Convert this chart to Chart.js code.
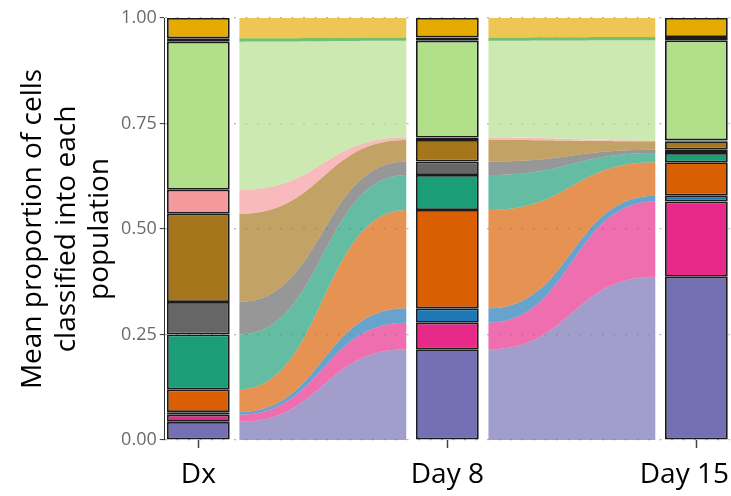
<!DOCTYPE html>
<html>
<head>
<meta charset="utf-8">
<title>Population proportions over time</title>
<script src="https://cdn.jsdelivr.net/npm/chart.js@4.4.1/dist/chart.umd.min.js"></script>
<style>
  html, body { margin: 0; padding: 0; background: #ffffff; }
  canvas { display: block; }
</style>
</head>
<body>
<canvas id="chart" width="731" height="496"></canvas>
<script>
// Time points along the x axis
const timepoints = ['Dx', 'Day 8', 'Day 15'];

// Populations, listed from the bottom of each stack to the top
const populations = ['P1', 'P2', 'P3', 'P4', 'P5', 'P6', 'P7', 'P8', 'P9', 'P10', 'P11'];

// Mean proportion of cells in each population at each time point
const propDx    = [0.043, 0.017, 0.006, 0.054, 0.130, 0.077, 0.209, 0.057, 0.351, 0.008, 0.048];
const propDay8  = [0.215, 0.063, 0.034, 0.233, 0.083, 0.032, 0.051, 0.006, 0.229, 0.008, 0.046];
const propDay15 = [0.387, 0.178, 0.014, 0.079, 0.022, 0.008, 0.020, 0.002, 0.237, 0.008, 0.045];

// y-axis ticks
const yTickValues = [0, 0.25, 0.5, 0.75, 1];
const yTickLabels = ['0.00', '0.25', '0.50', '0.75', '1.00'];

// y-axis title lines
const yTitle = ['Mean proportion of cells', 'classified into each', 'population'];

// Fill colour of each population
const popColours = ['#7570B3', '#E7298A', '#1F78B4', '#D95F02', '#1B9E77', '#666666',
                    '#A6761D', '#F49A9C', '#B2DF8A', '#33A02C', '#E6AB02'];

const FONT = "'Open Sans', 'Noto Sans', sans-serif";
const FLOW_ALPHA = 0.68;
const FLOW_GAP = 0.165;     // distance (x units) between a bar centre and the start of its flows

// Build [bottom, top] intervals of every population for each time point
const series = [propDx, propDay8, propDay15];
const stacks = series.map(vals => {
  let acc = 0;
  return vals.map(v => { const lo = acc; acc += v; return [lo, acc]; });
});

const datasets = populations.map((name, i) => ({
  type: 'bar',
  label: name,
  data: timepoints.map((t, j) => ({ x: j + 1, y: stacks[j][i] })),
  backgroundColor: popColours[i],
  borderColor: '#1b1b1b',
  borderWidth: 1.8,
  borderSkipped: false,
  grouped: false,
  categoryPercentage: 1,
  barPercentage: 0.252
}));

// Smooth ribbons linking each population between consecutive time points
const flowPlugin = {
  id: 'flows',
  beforeDatasetsDraw(chart) {
    const { ctx, scales: { x, y } } = chart;
    ctx.save();
    ctx.globalAlpha = FLOW_ALPHA;
    for (let j = 0; j < stacks.length - 1; j++) {
      const xa = x.getPixelForValue(j + 1 + FLOW_GAP);
      const xb = x.getPixelForValue(j + 2 - FLOW_GAP);
      const xm = (xa + xb) / 2;
      populations.forEach((p, i) => {
        const [a0, a1] = stacks[j][i];
        const [b0, b1] = stacks[j + 1][i];
        const ya0 = y.getPixelForValue(a0), ya1 = y.getPixelForValue(a1);
        const yb0 = y.getPixelForValue(b0), yb1 = y.getPixelForValue(b1);
        ctx.beginPath();
        ctx.moveTo(xa, ya1);
        ctx.bezierCurveTo(xm, ya1, xm, yb1, xb, yb1);
        ctx.lineTo(xb, yb0);
        ctx.bezierCurveTo(xm, yb0, xm, ya0, xa, ya0);
        ctx.closePath();
        ctx.fillStyle = popColours[i];
        ctx.fill();
      });
    }
    ctx.restore();
  }
};

// Time point labels under each bar, kept inside the canvas
const xLabelPlugin = {
  id: 'xLabels',
  afterDraw(chart) {
    const { ctx, scales: { x }, chartArea } = chart;
    ctx.save();
    ctx.font = `28px ${FONT}`;
    ctx.fillStyle = '#000000';
    ctx.textAlign = 'center';
    ctx.textBaseline = 'middle';
    timepoints.forEach((t, j) => {
      const w = ctx.measureText(t).width;
      let cx = x.getPixelForValue(j + 1);
      if (cx + w / 2 > chart.width - 2) cx = chart.width - 2 - w / 2;
      ctx.fillText(t, cx, chartArea.bottom + 35);
    });
    ctx.restore();
  }
};

new Chart(document.getElementById('chart'), {
  type: 'bar',
  data: { datasets },
  plugins: [flowPlugin, xLabelPlugin],
  options: {
    responsive: false,
    animation: false,
    layout: { padding: { left: 17, top: 18, right: 1, bottom: 48 } },
    plugins: { legend: { display: false }, tooltip: { enabled: false } },
    scales: {
      x: {
        type: 'linear',
        min: 0.865,
        max: 3.135,
        offset: false,
        afterBuildTicks: s => { s.ticks = timepoints.map((t, j) => ({ value: j + 1 })); },
        ticks: { display: false },
        grid: { drawOnChartArea: false, drawTicks: true, tickLength: 8, tickColor: '#444444', tickWidth: 1.5, offset: false },
        border: { display: false }
      },
      y: {
        type: 'linear',
        min: 0,
        max: 1,
        afterBuildTicks: s => { s.ticks = yTickValues.map(v => ({ value: v })); },
        ticks: {
          callback: (v, i) => yTickLabels[i],
          color: '#6b6b6b',
          font: { family: FONT, size: 18 },
          padding: 3
        },
        grid: { color: '#b5b5b5', lineWidth: 1.2, tickColor: '#333333', tickLength: 5, tickWidth: 1 },
        border: { display: true, color: '#333333', width: 1, dash: [2, 9.5] },
        title: {
          display: true,
          text: yTitle,
          color: '#000000',
          font: { family: FONT, size: 28, lineHeight: 1.18 },
          padding: { top: 0, bottom: 2 }
        }
      }
    }
  }
});
</script>
</body>
</html>
